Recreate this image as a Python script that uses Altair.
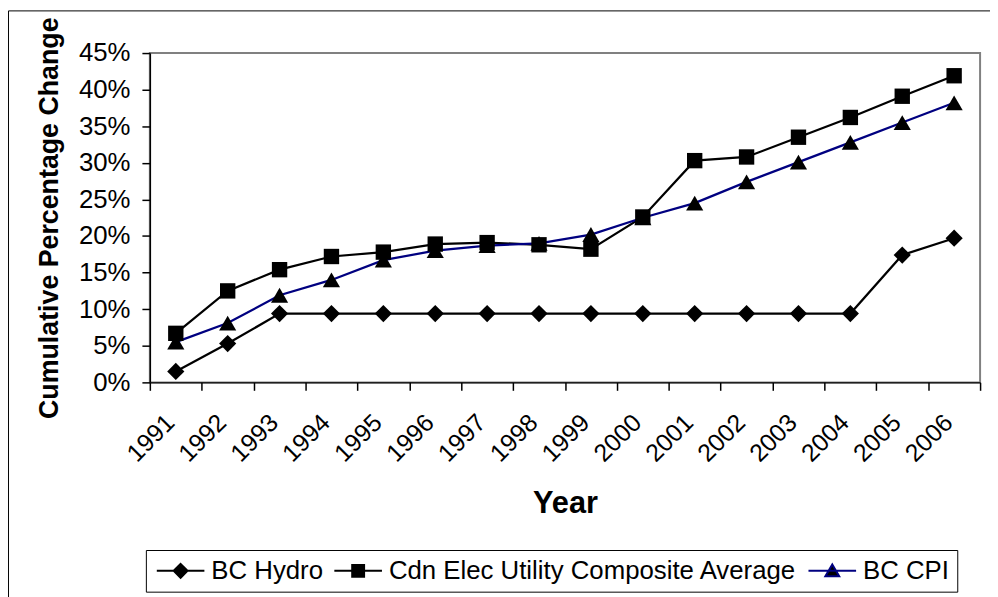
import altair as alt
import pandas as pd

years = [str(y) for y in range(1991, 2007)]
bc_hydro = [1.5, 5.3, 9.4, 9.4, 9.4, 9.4, 9.4, 9.4, 9.4, 9.4, 9.4, 9.4, 9.4, 9.4, 17.4, 19.7]
cdn_avg = [6.7, 12.5, 15.4, 17.2, 17.8, 18.9, 19.1, 18.8, 18.2, 22.6, 30.3, 30.8, 33.5, 36.2, 39.1, 41.9]
bc_cpi = [5.5, 8.1, 11.9, 14.0, 16.7, 18.0, 18.7, 19.0, 20.2, 22.5, 24.5, 27.4, 30.1, 32.8, 35.5, 38.2]

series_names = ["BC Hydro", "Cdn Elec Utility Composite Average", "BC CPI"]
line_colors = ["#000000", "#000000", "#000080"]
marker_shapes = ["diamond", "square", "triangle-up"]
marker_sizes = [300, 240, 300]
# legend glyphs: a line with the series marker on it
legend_paths = [
    "M-1,0H3.8M1.4,-0.7L2.1,0L1.4,0.7L0.7,0Z",
    "M-1,0H3.8M0.8,-0.6H2.0V0.6H0.8Z",
    "M-1,0H3.8M1.4,-0.65L2.1,0.55H0.7Z",
]
y_ticks = [0, 5, 10, 15, 20, 25, 30, 35, 40, 45]

rows = []
for name, vals in zip(series_names, [bc_hydro, cdn_avg, bc_cpi]):
    for yr, v in zip(years, vals):
        rows.append({"year": yr, "series": name, "value": v})
df = pd.DataFrame(rows)

FONT = "Liberation Sans"
W, H = 837, 332

x_enc = alt.X(
    "year:O",
    sort=years,
    scale=alt.Scale(type="band", paddingInner=0, paddingOuter=0),
    axis=alt.Axis(
        title="Year",
        labelAngle=-45,
        labelAlign="right",
        labelBaseline="middle",
        labelOffset=-6,
        labelPadding=28,
        labelOverlap=False,
        labelFontSize=25,
        labelFont=FONT,
        labelColor="black",
        tickBand="extent",
        tickSize=8,
        tickColor="black",
        tickWidth=1.5,
        domainColor="black",
        domainWidth=1.5,
        titleFont=FONT,
        titleFontSize=31,
        titleFontWeight="bold",
        titleColor="black",
        titlePadding=23,
    ),
)
y_enc = alt.Y(
    "value:Q",
    scale=alt.Scale(domain=[0, 45], nice=False, zero=True),
    axis=alt.Axis(
        title="Cumulative Percentage Change",
        values=y_ticks,
        labelExpr="datum.value + '%'",
        labelOverlap=False,
        labelFontSize=26,
        labelFont=FONT,
        labelColor="black",
        labelPadding=12,
        tickSize=8,
        tickColor="black",
        tickWidth=1.5,
        domainColor="black",
        domainWidth=1.5,
        grid=False,
        titleFont=FONT,
        titleFontSize=27,
        titleFontWeight="bold",
        titleColor="black",
        titlePadding=15,
    ),
)

base = alt.Chart(df).encode(x=x_enc, y=y_enc)

frame = alt.Chart(alt.Data(values=[{}])).mark_rect(
    fill=None, stroke="black", strokeWidth=1, clip=False
).encode(
    x=alt.value(-142.5), x2=alt.value(W + 40),
    y=alt.value(-42.5), y2=alt.value(H + 300),
)

layers = [frame]
for name, col in zip(series_names, line_colors):
    layers.append(
        base.transform_filter(alt.datum.series == name).mark_line(strokeWidth=2.25, color=col)
    )
for name, shape, size in zip(series_names, marker_shapes, marker_sizes):
    layers.append(
        base.transform_filter(alt.datum.series == name)
        .mark_point(filled=True, size=size, opacity=1, color="black", shape=shape)
    )

leg = alt.Legend(
    title=None,
    orient="none",
    legendX=-4,
    legendY=501,
    direction="horizontal",
    strokeColor="black",
    fillColor="white",
    padding=8,
    symbolSize=400,
    symbolStrokeWidth=2,
    symbolFillColor="black",
    symbolOpacity=1,
    labelFont=FONT,
    labelFontSize=26,
    labelColor="black",
    labelOffset=32,
    columnPadding=7,
    labelLimit=700,
)

legend_layer = base.transform_filter("false").mark_point(
    filled=True, fill="black", strokeWidth=2, opacity=1
).encode(
    shape=alt.Shape("series:N", scale=alt.Scale(domain=series_names, range=legend_paths), legend=leg),
    stroke=alt.Stroke("series:N", scale=alt.Scale(domain=series_names, range=line_colors), legend=leg),
)
layers.append(legend_layer)

chart = alt.layer(*layers).properties(
    width=W,
    height=H,
    padding={"left": 143, "top": 43, "right": 10, "bottom": 220},
    autosize=alt.AutoSizeParams(type="none"),
    background="white",
).configure_view(
    stroke="#808080", strokeWidth=2
)

chart.save("out.html", embed_options={"renderer": "svg", "actions": False})
